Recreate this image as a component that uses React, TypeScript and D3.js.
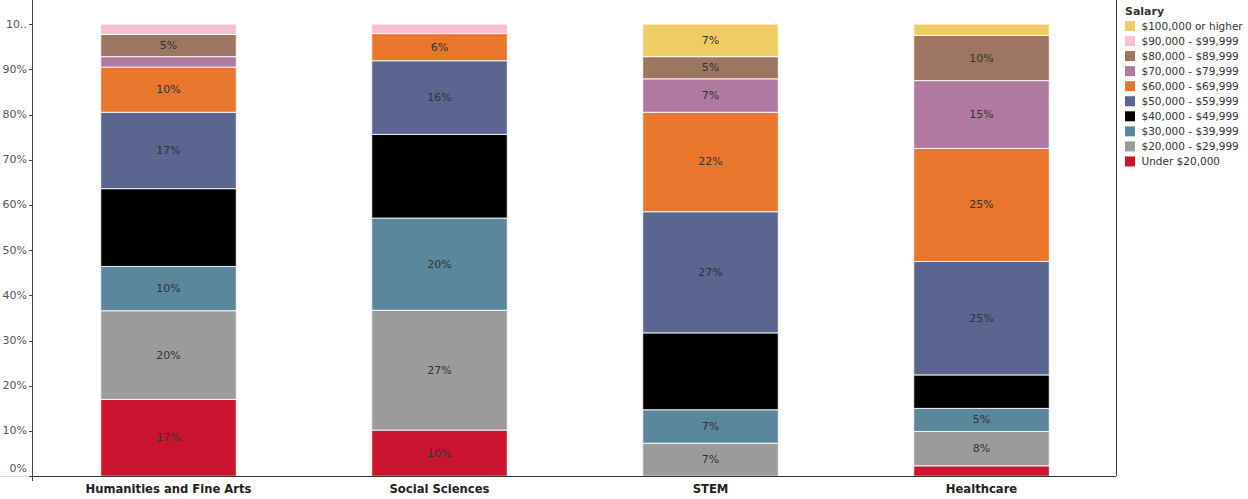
import React from "react";
import * as d3 from "d3";

const categories = ["Humanities and Fine Arts", "Social Sciences", "STEM", "Healthcare"];

const salaryBands = [
  "Under $20,000",
  "$20,000 - $29,999",
  "$30,000 - $39,999",
  "$40,000 - $49,999",
  "$50,000 - $59,999",
  "$60,000 - $69,999",
  "$70,000 - $79,999",
  "$80,000 - $89,999",
  "$90,000 - $99,999",
  "$100,000 or higher",
];

const bandColors = [
  "#CB1530",
  "#9B9B9B",
  "#5A879B",
  "#000000",
  "#5A6590",
  "#E8762C",
  "#B07AA0",
  "#9C7660",
  "#F9BFD2",
  "#F0CD63",
];

// percent of graduates per salary band, order matches categories
const under20k = [17.0, 10.2, 0, 2.3];
const s20k = [19.6, 26.5, 7.3, 7.6];
const s30k = [9.8, 20.4, 7.4, 5.1];
const s40k = [17.2, 18.5, 17.0, 7.4];
const s50k = [16.9, 16.3, 26.8, 25.1];
const s60k = [10.0, 6.0, 22.0, 25.0];
const s70k = [2.3, 0, 7.4, 15.0];
const s80k = [4.9, 0, 4.9, 10.0];
const s90k = [2.3, 2.1, 0, 0];
const s100k = [0, 0, 7.2, 2.5];

const seriesValues = [under20k, s20k, s30k, s40k, s50k, s60k, s70k, s80k, s90k, s100k];

const yTicks = [0, 10, 20, 30, 40, 50, 60, 70, 80, 90, 100];
const yTickLabels = ["0%", "10%", "20%", "30%", "40%", "50%", "60%", "70%", "80%", "90%", "10.."];

const W = 1248;
const H = 499;
const FONT = "'DejaVu Sans', Verdana, sans-serif";

export default function App() {
  const x = d3.scaleBand<string>().domain(categories).range([33, 1117]).paddingInner(0.5).paddingOuter(0.25);
  const y = d3.scaleLinear().domain([0, 100]).range([476.2, 24.1]);

  const rows = categories.map((c, i) => {
    const r: Record<string, number | string> = { category: c };
    salaryBands.forEach((b, j) => (r[b] = seriesValues[j][i]));
    return r;
  });
  const stacked = d3.stack<any>().keys(salaryBands)(rows as any);

  return (
    <svg width={W} height={H} style={{ position: "absolute", left: 0, top: 0, fontFamily: FONT }}>
      <rect width={W} height={H} fill="#fff" />
      {stacked.map((s, j) => (
        <g key={s.key} fill={bandColors[j]}>
          {s.map((d, i) => {
            const h = y(d[0]) - y(d[1]);
            if (h <= 0) return null;
            return (
              <rect
                key={i}
                x={x(categories[i])}
                y={y(d[1])}
                width={x.bandwidth()}
                height={h}
                stroke="#fff"
                strokeOpacity={0.85}
                strokeWidth={1}
              />
            );
          })}
        </g>
      ))}
      {stacked.map((s, j) =>
        s.map((d, i) => {
          const v = d[1] - d[0];
          if (v < 4.5 || salaryBands[j] === "$40,000 - $49,999") return null;
          return (
            <text
              key={s.key + i}
              x={(x(categories[i]) as number) + x.bandwidth() / 2}
              y={(y(d[0]) + y(d[1])) / 2}
              textAnchor="middle"
              dominantBaseline="central"
              fontSize={11}
              fill="#333"
            >
              {Math.round(v) + "%"}
            </text>
          );
        })
      )}
      {/* y axis */}
      <line x1={0} x2={33} y1={476.5} y2={476.5} stroke="#ddd" />
      <line x1={32.5} x2={32.5} y1={0} y2={481} stroke="#444" />
      {yTicks.map((t, i) => (
        <g key={t}>
          <line x1={29} x2={33} y1={Math.round(y(t)) + 0.5} y2={Math.round(y(t)) + 0.5} stroke="#444" />
          <text
            x={27}
            y={t === 0 ? y(t) - 8 : y(t)}
            textAnchor="end"
            dominantBaseline="central"
            fontSize={11}
            fill="#555"
          >
            {yTickLabels[i]}
          </text>
        </g>
      ))}
      {/* x axis */}
      <line x1={33} x2={1116} y1={476.5} y2={476.5} stroke="#333" />
      {categories.map((c) => (
        <text
          key={c}
          x={(x(c) as number) + x.bandwidth() / 2}
          y={488.5}
          textAnchor="middle"
          dominantBaseline="central"
          fontSize={11.6}
          fontWeight="bold"
          fill="#222"
        >
          {c}
        </text>
      ))}
      {/* legend */}
      <line x1={1116.5} x2={1116.5} y1={0} y2={476} stroke="#444" />
      <text x={1125} y={11} dominantBaseline="central" fontSize={11} fontWeight="bold" fill="#333">
        Salary
      </text>
      {salaryBands
        .map((b, j) => ({ b, j }))
        .reverse()
        .map(({ b, j }, k) => (
          <g key={b} transform={`translate(1125, ${26 + k * 15.05})`}>
            <rect x={0} y={-5} width={10} height={10} fill={bandColors[j]} />
            <text x={16.5} y={0} dominantBaseline="central" fontSize={10.5} fill="#333">
              {b}
            </text>
          </g>
        ))}
    </svg>
  );
}
